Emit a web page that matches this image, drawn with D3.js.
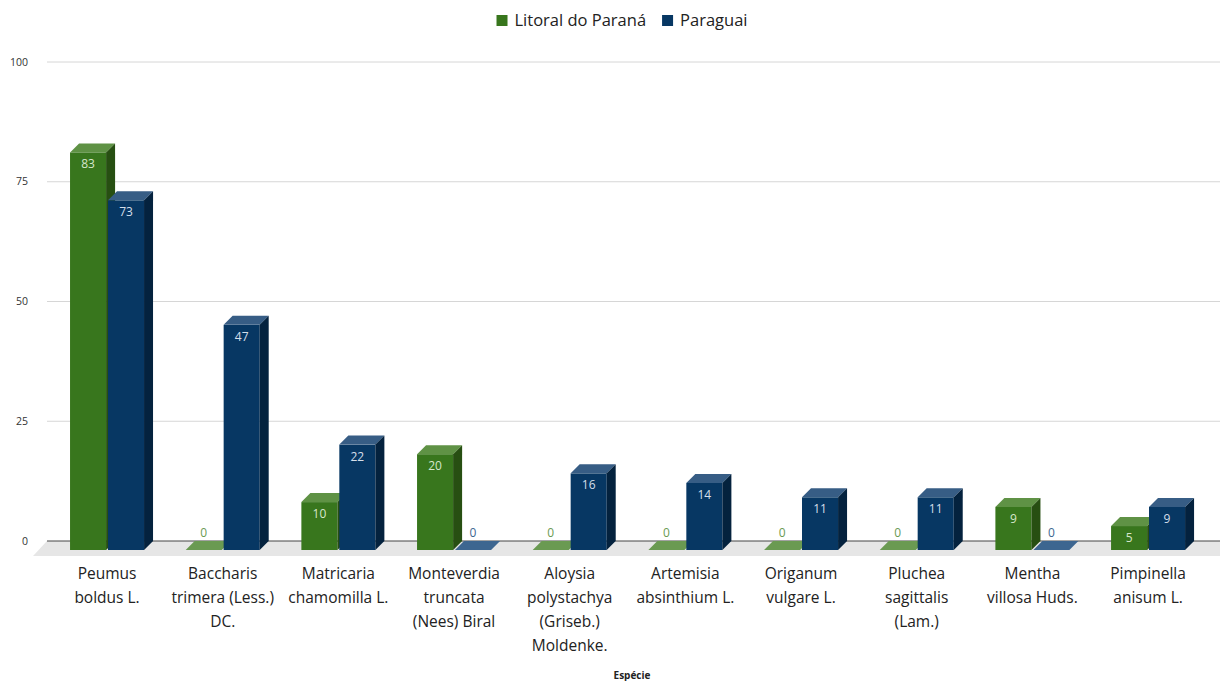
<!DOCTYPE html>
<html>
<head>
<meta charset="utf-8">
<script src="https://cdn.jsdelivr.net/npm/d3@7/dist/d3.min.js"></script>
<style>
  html, body { margin: 0; padding: 0; background: #fff; }
  svg { display: block; font-family: "Open Sans", Lato, sans-serif; }
</style>
</head>
<body>
<svg id="chart" width="1220" height="681"></svg>
<script>
// Species (category labels, one entry per wrapped line)
const categories = [
  "Peumus boldus L.",
  "Baccharis trimera (Less.) DC.",
  "Matricaria chamomilla L.",
  "Monteverdia truncata (Nees) Biral",
  "Aloysia polystachya (Griseb.) Moldenke.",
  "Artemisia absinthium L.",
  "Origanum vulgare L.",
  "Pluchea sagittalis (Lam.)",
  "Mentha villosa Huds.",
  "Pimpinella anisum L."
];
const categoryLines = [
  ["Peumus", "boldus L."],
  ["Baccharis", "trimera (Less.)", "DC."],
  ["Matricaria", "chamomilla L."],
  ["Monteverdia", "truncata", "(Nees) Biral"],
  ["Aloysia", "polystachya", "(Griseb.)", "Moldenke."],
  ["Artemisia", "absinthium L."],
  ["Origanum", "vulgare L."],
  ["Pluchea", "sagittalis", "(Lam.)"],
  ["Mentha", "villosa Huds."],
  ["Pimpinella", "anisum L."]
];
const seriesNames = ["Litoral do Paraná", "Paraguai"];
const litoralValues = [83, 0, 10, 20, 0, 0, 0, 0, 9, 5];
const paraguaiValues = [73, 47, 22, 0, 16, 14, 11, 11, 0, 9];
const yTicks = [0, 25, 50, 75, 100];
const xAxisTitle = "Espécie";

const palette = {
  "Litoral do Paraná": { front: "#38761d", top: "#5f9245", side: "#274f12", label: "#d6e6cc", zero: "#6a9a52" },
  "Paraguai":          { front: "#073763", top: "#375d85", side: "#04223e", label: "#d5dfea", zero: "#3d6690" }
};

const svg = d3.select("#chart");

// Back wall plane and 3D offsets
const plotLeft = 47, plotRight = 1220;
const y = d3.scaleLinear().domain([0, 100]).range([541, 62]);
const depth = 9;          // bar depth offset (px right / up)
const floorDepth = 14;    // floor front edge offset

// Front plane band positions
const x0 = d3.scaleBand().domain(categories).range([49.2, 1205.9]).paddingInner(0).paddingOuter(0);
const x1 = d3.scaleBand().domain(seriesNames).range([-37, 37]).paddingInner(0.05);

// Gridlines
svg.append("g").selectAll("line")
  .data(yTicks.filter(t => t > 0))
  .join("line")
  .attr("x1", plotLeft).attr("x2", plotRight)
  .attr("y1", d => y(d)).attr("y2", d => y(d))
  .attr("stroke", "#d6d6d6").attr("stroke-width", 1);

// Y tick labels
svg.append("g").selectAll("text")
  .data(yTicks)
  .join("text")
  .attr("x", 28).attr("y", d => y(d))
  .attr("dy", "0.35em")
  .attr("text-anchor", "end")
  .attr("font-size", 10.5)
  .attr("fill", "#333")
  .text(d => d);

// Floor
const fy0 = y(0);
svg.append("path")
  .attr("d", `M${plotLeft},${fy0} L${plotRight},${fy0} L${plotRight},${fy0 + floorDepth + 1} L${plotLeft - floorDepth},${fy0 + floorDepth + 1} Z`)
  .attr("fill", "#e6e6e6");

// Baseline
svg.append("line")
  .attr("x1", plotLeft).attr("x2", plotRight)
  .attr("y1", fy0).attr("y2", fy0)
  .attr("stroke", "#444").attr("stroke-width", 1);

// Bars
const rows = [];
categories.forEach((c, i) => {
  rows.push({ cat: c, series: seriesNames[0], value: litoralValues[i] });
  rows.push({ cat: c, series: seriesNames[1], value: paraguaiValues[i] });
});

const bars = svg.append("g").selectAll("g.bar")
  .data(rows)
  .join("g").attr("class", "bar");

bars.each(function(d) {
  const g = d3.select(this);
  const col = palette[d.series];
  const cx = x0(d.cat) + x0.bandwidth() / 2;
  const xl = cx + x1(d.series);
  const xr = xl + x1.bandwidth();
  const yb = y(0) + depth;
  const yt = y(d.value) + depth;
  if (d.value === 0) {
    g.append("path")
      .attr("d", `M${xl},${yb} L${xr},${yb} L${xr + depth},${yb - depth} L${xl + depth},${yb - depth} Z`)
      .attr("fill", col.zero);
    g.append("text")
      .attr("x", (xl + xr) / 2).attr("y", yb - 13)
      .attr("text-anchor", "middle")
      .attr("font-size", 12)
      .attr("fill", col.zero)
      .text(d.value);
    return;
  }
  // front face
  g.append("rect")
    .attr("x", xl).attr("y", yt)
    .attr("width", xr - xl).attr("height", yb - yt)
    .attr("fill", col.front);
  // top face
  g.append("path")
    .attr("d", `M${xl},${yt} L${xr},${yt} L${xr + depth},${yt - depth} L${xl + depth},${yt - depth} Z`)
    .attr("fill", col.top);
  // side face
  g.append("path")
    .attr("d", `M${xr},${yt} L${xr + depth},${yt - depth} L${xr + depth},${yb - depth} L${xr},${yb} Z`)
    .attr("fill", col.side);
  // value label
  g.append("text")
    .attr("x", (xl + xr) / 2).attr("y", yt + 16)
    .attr("text-anchor", "middle")
    .attr("font-size", 12)
    .attr("fill", col.label)
    .text(d.value);
});

// X category labels
const xl = svg.append("g").selectAll("text")
  .data(categories)
  .join("text")
  .attr("x", d => x0(d) + x0.bandwidth() / 2)
  .attr("y", 579)
  .attr("text-anchor", "middle")
  .attr("font-size", 15.5)
  .attr("fill", "#222");
xl.each(function(d, i) {
  d3.select(this).selectAll("tspan")
    .data(categoryLines[i])
    .join("tspan")
    .attr("x", x0(d) + x0.bandwidth() / 2)
    .attr("dy", (t, j) => j === 0 ? 0 : 24)
    .text(t => t);
});

// X axis title
svg.append("text")
  .attr("x", 632).attr("y", 679)
  .attr("text-anchor", "middle")
  .attr("font-size", 10)
  .attr("font-weight", "bold")
  .attr("fill", "#222")
  .text(xAxisTitle);

// Legend
const legend = svg.append("g");
const legendItems = legend.selectAll("g")
  .data(seriesNames)
  .join("g");
legendItems.append("rect")
  .attr("width", 11).attr("height", 11)
  .attr("fill", d => palette[d].front);
legendItems.append("text")
  .attr("x", 18).attr("y", 11)
  .attr("font-size", 16.5)
  .attr("fill", "#222")
  .text(d => d);
let lx = 0;
legendItems.each(function() {
  const w = this.getBBox().width;
  d3.select(this).attr("transform", `translate(${lx},15)`);
  lx += w + 16;
});
const totalW = lx - 16;
legend.attr("transform", `translate(${622 - totalW / 2},0)`);
</script>
</body>
</html>
